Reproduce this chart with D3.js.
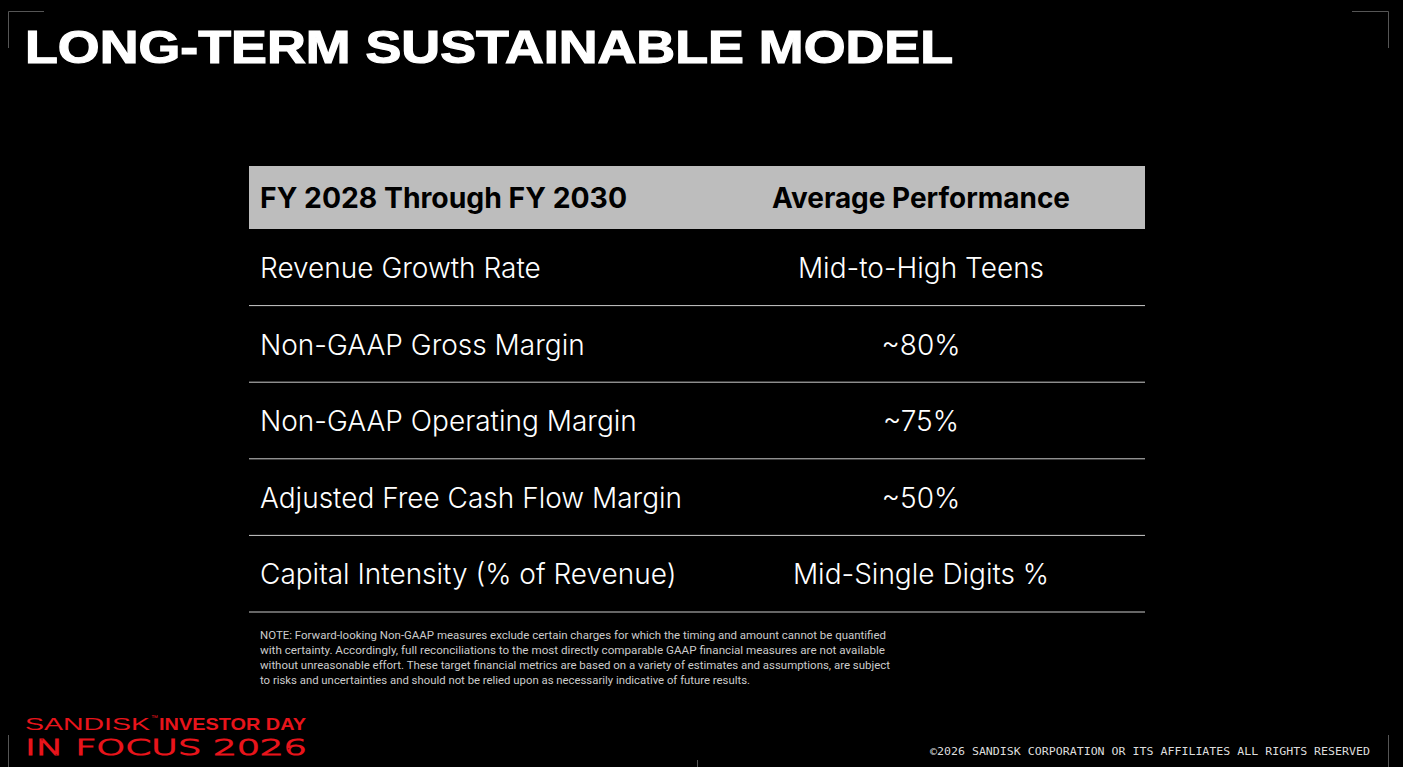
<!DOCTYPE html>
<html><head><meta charset="utf-8">
<script src="https://cdn.jsdelivr.net/npm/d3@7"></script>
<style>body{margin:0;background:#000}</style>
</head><body><div id="chart"></div>
<script>
var title = "LONG-TERM SUSTAINABLE MODEL"
var headers = ["FY 2028 Through FY 2030", "Average Performance"]
var metrics = ["Revenue Growth Rate", "Non-GAAP Gross Margin", "Non-GAAP Operating Margin",
	"Adjusted Free Cash Flow Margin", "Capital Intensity (% of Revenue)"]
var targets = ["Mid-to-High Teens", "~80%", "~75%", "~50%", "Mid-Single Digits %"]
var noteLines = [
	"NOTE: Forward-looking Non-GAAP measures exclude certain charges for which the timing and amount cannot be quantified",
	"with certainty. Accordingly, full reconciliations to the most directly comparable GAAP financial measures are not available",
	"without unreasonable effort. These target financial metrics are based on a variety of estimates and assumptions, are subject",
	"to risks and uncertainties and should not be relied upon as necessarily indicative of future results."]

var W = 1403, H = 767
var svg = d3.select("#chart").append("svg").attr("width", W).attr("height", H)
svg.append("rect").attr("width", W).attr("height", H).attr("fill", "#000")

// corner brackets
var lc = "#555"
svg.append("path").attr("d", "M8.5,48 V11.5 H44").attr("stroke", lc).attr("fill", "none")
svg.append("path").attr("d", "M1352,11.5 H1388.5 V48").attr("stroke", lc).attr("fill", "none")
svg.append("path").attr("d", "M8.5,735 V767").attr("stroke", lc)
svg.append("path").attr("d", "M1388.5,735 V767").attr("stroke", lc)
svg.append("path").attr("d", "M697.5,760 V767").attr("stroke", lc)

svg.append("text").attr("x", 25).attr("y", 63).text(title)
	.attr("font-family", "Liberation Sans").attr("font-weight", "bold").attr("font-size", 47)
	.attr("fill", "#fff").attr("stroke", "#fff").attr("stroke-width", 1.2)
	.attr("textLength", 928).attr("lengthAdjust", "spacingAndGlyphs")

// table
var left = 249, right = 1145, headTop = 166, headH = 63, rowH = 76.6
var y = d3.scaleBand().domain(d3.range(metrics.length)).range([headTop + headH, headTop + headH + rowH * metrics.length])
var col2 = 921

svg.append("rect").attr("x", left).attr("y", headTop).attr("width", right - left).attr("height", headH).attr("fill", "#bdbdbd")
svg.append("text").attr("x", 260).attr("y", headTop + 42).text(headers[0])
	.attr("font-family", "Inter").attr("font-weight", "bold").attr("font-size", 28).attr("fill", "#000")
	.attr("textLength", 367).attr("lengthAdjust", "spacingAndGlyphs")
svg.append("text").attr("x", col2).attr("y", headTop + 42).text(headers[1]).attr("text-anchor", "middle")
	.attr("font-family", "Inter").attr("font-weight", "bold").attr("font-size", 28).attr("fill", "#000")
	.attr("textLength", 298).attr("lengthAdjust", "spacingAndGlyphs")

var rows = svg.selectAll(".row").data(metrics).enter().append("g").attr("class", "row")
	.attr("transform", function(d, i) {return "translate(0," + y(i) + ")"})
rows.append("line").attr("x1", left).attr("x2", right).attr("y1", y.bandwidth()).attr("y2", y.bandwidth())
	.attr("stroke", "#ccc").attr("stroke-width", 1)
rows.append("text").attr("x", 260).attr("y", 49).text(function(d) {return d})
	.attr("font-family", "Inter").attr("font-weight", 300).attr("font-size", 28).attr("fill", "#fff")
rows.append("text").attr("x", col2).attr("y", 49).attr("text-anchor", "middle").text(function(d, i) {return targets[i]})
	.attr("font-family", "Inter").attr("font-weight", 300).attr("font-size", 28).attr("fill", "#fff")

svg.selectAll(".note").data(noteLines).enter().append("text").attr("class", "note")
	.attr("x", 260).attr("y", function(d, i) {return 639 + i * 15}).text(function(d) {return d})
	.attr("font-family", "Roboto").attr("font-size", 11).attr("fill", "#ccc")
	.attr("textLength", function(d, i) {return [626, 625, 630, 490][i]}).attr("lengthAdjust", "spacingAndGlyphs")

// footer logo
svg.append("text").attr("x", 25).attr("y", 730).text("SANDISK")
	.attr("font-family", "Liberation Sans").attr("font-size", 17).attr("fill", "#e8141b")
	.attr("textLength", 125).attr("lengthAdjust", "spacingAndGlyphs")
svg.append("text").attr("x", 151).attr("y", 720).text("™").attr("font-family", "Liberation Sans")
	.attr("font-size", 7).attr("fill", "#e8141b")
svg.append("text").attr("x", 159).attr("y", 730).text("INVESTOR DAY")
	.attr("font-family", "Liberation Sans").attr("font-weight", "bold").attr("font-size", 17).attr("fill", "#e8141b")
	.attr("textLength", 147).attr("lengthAdjust", "spacingAndGlyphs")
svg.append("text").attr("x", 25).attr("y", 755).text("IN FOCUS 2026")
	.attr("font-family", "DejaVu Sans").attr("font-weight", "200").attr("font-size", 22).attr("fill", "none")
	.attr("stroke", "#e8141b").attr("stroke-width", 1.1)
	.attr("textLength", 282).attr("lengthAdjust", "spacingAndGlyphs")

svg.append("text").attr("x", 1370).attr("y", 755).attr("text-anchor", "end")
	.text("©2026 SANDISK CORPORATION OR ITS AFFILIATES ALL RIGHTS RESERVED")
	.attr("font-family", "DejaVu Sans Mono").attr("font-size", 11).attr("fill", "#ddd")
	.attr("textLength", 440).attr("lengthAdjust", "spacingAndGlyphs")
</script></body></html>
